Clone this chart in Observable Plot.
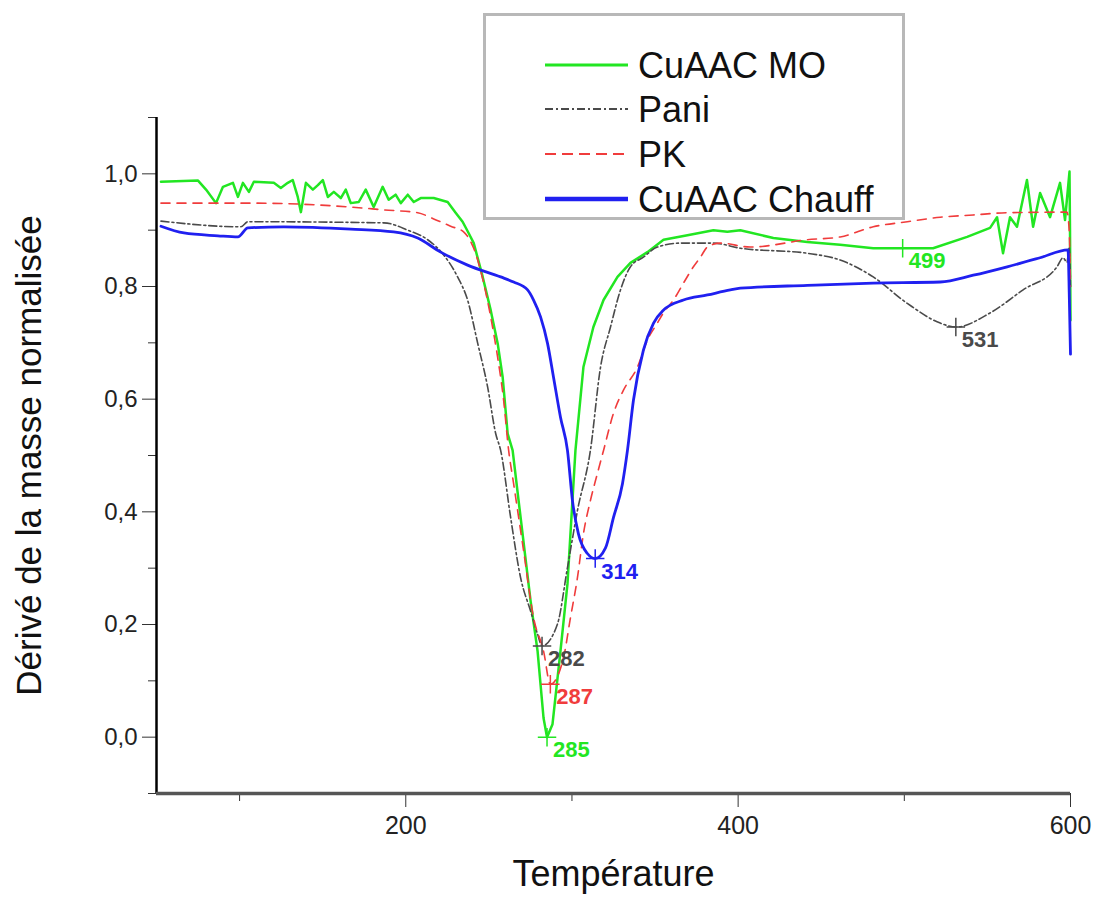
<!DOCTYPE html>
<html>
<head>
<meta charset="utf-8">
<script src="https://cdn.jsdelivr.net/npm/d3@7"></script>
<script src="https://cdn.jsdelivr.net/npm/@observablehq/plot@0.6"></script>
<style>
  body { margin: 0; background: #fff; }
  #wrap { position: relative; width: 1097px; height: 903px; font-family: "Liberation Sans", Arial, sans-serif; }
  #wrap svg.overlay { position: absolute; left: 0; top: 0; pointer-events: none; }
</style>
</head>
<body>
<div id="wrap"></div>
<script>
// ---- Data (Température, dérivé normalisé) ----
const cuaacMO = [
  [52.7,0.986],[75,0.988],[79.8,0.972],[85.8,0.948],[90,0.977],[96,0.984],[99,0.959],[102,0.984],
  [105.6,0.968],[108.6,0.986],[120.6,0.984],[124.8,0.975],[129,0.984],[132,0.989],[135,0.959],
  [136.9,0.932],[139.9,0.984],[144.1,0.972],[147.1,0.980],[150.1,0.989],[153.1,0.959],[156.7,0.968],
  [160.9,0.957],[163.9,0.972],[166.9,0.948],[171.7,0.950],[175.9,0.972],[180.7,0.941],[186.1,0.977],
  [189.7,0.954],[193.9,0.963],[197,0.948],[201.2,0.963],[204.8,0.950],[209,0.957],[216.8,0.957],
  [225.2,0.950],[230,0.931],[234.2,0.915],[237.8,0.895],[240.9,0.877],[246.3,0.817],[251.1,0.758],
  [255.3,0.699],[258.3,0.639],[261.3,0.539],[264.3,0.509],[269.1,0.390],[275.1,0.242],[279.3,0.153],
  [282.9,0.034],[285,0.0],[288.3,0.023],[293.1,0.153],[297.3,0.272],[300.3,0.420],[302.1,0.509],
  [306.9,0.657],[312.9,0.728],[319,0.776],[327.4,0.817],[335.2,0.842],[345.4,0.861],[355.1,0.883],
  [369.5,0.891],[385.1,0.900],[393.5,0.897],[401.3,0.900],[421.2,0.886],[441.6,0.879],[461.4,0.874],
  [481.3,0.868],[499.3,0.868],[517.3,0.868],[537.8,0.888],[551.6,0.904],[555.8,0.923],[559.4,0.859],
  [563.6,0.923],[567.8,0.906],[573.8,0.989],[577.5,0.906],[581.7,0.966],[587.7,0.923],[593.7,0.984],
  [596.7,0.918],[599.4,1.004],[599.7,0.90],[600,0.74]
];
const pani = [
  [52.7,0.916],[100.8,0.906],[105,0.915],[186.8,0.913],[201.2,0.900],[213.2,0.883],[222.8,0.856],
  [231.2,0.817],[237.2,0.776],[243.3,0.699],[249.3,0.621],[254.1,0.539],[257.1,0.509],[263.1,0.390],
  [269.1,0.283],[275.1,0.224],[279.3,0.183],[282,0.162],[291.3,0.201],[297.3,0.301],[303.3,0.402],
  [311.1,0.509],[317.2,0.657],[323.2,0.728],[329.2,0.794],[335.2,0.835],[343,0.852],[351.4,0.870],
  [365.2,0.877],[385.1,0.877],[401.3,0.868],[441.6,0.859],[461.4,0.847],[481.3,0.817],[501.8,0.770],
  [521.6,0.735],[531,0.728],[551.6,0.753],[571.5,0.794],[591.9,0.835],[595.5,0.851],[597.9,0.843],
  [599.2,0.87],[600,0.80]
];
const pk = [
  [52.7,0.948],[106.8,0.948],[166.9,0.941],[186.8,0.936],[207.2,0.931],[216.8,0.920],[227,0.907],
  [234.8,0.897],[242,0.859],[246.9,0.806],[251.1,0.746],[255.3,0.674],[258.9,0.598],[261.9,0.509],
  [264.9,0.450],[270.9,0.331],[276.9,0.212],[282.9,0.153],[287,0.094],[294.9,0.141],[299.1,0.212],
  [303.3,0.283],[306.9,0.361],[311.1,0.420],[315.3,0.468],[319,0.509],[325,0.575],[331,0.616],
  [339.4,0.657],[345.4,0.705],[351.4,0.735],[355,0.753],[361.1,0.776],[367.1,0.806],[373.1,0.835],
  [377.3,0.852],[381.5,0.870],[389.3,0.877],[407.3,0.870],[441.6,0.883],[461.4,0.888],[481.3,0.906],
  [501.8,0.915],[521.6,0.923],[541.5,0.927],[561.9,0.931],[597.9,0.932],[599.2,0.90],[600,0.80]
];
const cuaacChauff = [
  [52.7,0.907],[66.5,0.895],[87,0.890],[99,0.888],[105,0.904],[126.6,0.906],[166.9,0.902],
  [192.7,0.897],[207.2,0.886],[221,0.861],[237.2,0.838],[257.1,0.817],[264.9,0.808],[273.3,0.794],
  [276.9,0.776],[281.1,0.746],[285.3,0.699],[288.9,0.639],[293.1,0.568],[297.3,0.509],[300.3,0.420],
  [303.9,0.361],[309.3,0.326],[314,0.317],[320.2,0.336],[325,0.390],[330.4,0.450],[333.4,0.509],
  [337,0.598],[343,0.687],[349.1,0.735],[355,0.758],[367.1,0.776],[381.5,0.785],[395.3,0.794],
  [401.3,0.797],[441.6,0.802],[481.3,0.806],[521.6,0.808],[541.5,0.820],[561.9,0.835],[581.7,0.851],
  [598.5,0.865],[599.3,0.78],[600,0.68]
];

const seriesNames  = ["CuAAC MO", "Pani", "PK", "CuAAC Chauff"];
const seriesData   = [cuaacMO, pani, pk, cuaacChauff];
const seriesColors = ["#22e622", "#4a4a4a", "#f03c3c", "#2020f0"];
const seriesDash   = [null, "8,3,2,3", "9,7", null];
const seriesWidth  = [2.5, 1.6, 1.6, 2.8];
const seriesCurve  = ["linear", "monotone-x", "monotone-x", "monotone-x"];

const peakLabels = ["285", "287", "282", "314", "499", "531"];
const peakT      = [285, 287, 282, 314, 499, 531];
const peakV      = [0.0, 0.094, 0.162, 0.317, 0.868, 0.728];
const peakSeries = [0, 2, 1, 3, 0, 1];

const yMajor = [0, 0.2, 0.4, 0.6, 0.8, 1.0];
const yMinor = [-0.1, 0.1, 0.3, 0.5, 0.7, 0.9, 1.1];
const xMajor = [200, 400, 600];
const xMinor = [100, 300, 500];

const peaks = peakLabels.map((l, i) => ({label: l, T: peakT[i], v: peakV[i], color: seriesColors[peakSeries[i]]}));

const lineMarks = seriesData.map((d, i) => Plot.line(d, {
  x: p => p[0], y: p => p[1],
  stroke: seriesColors[i], strokeWidth: seriesWidth[i],
  strokeDasharray: seriesDash[i], curve: seriesCurve[i]
}));

const plot = Plot.plot({
  width: 1097, height: 903,
  marginLeft: 156, marginRight: 27, marginTop: 117, marginBottom: 110,
  x: {domain: [50, 600]},
  y: {domain: [-0.1, 1.1]},
  style: {fontFamily: "'Liberation Sans', Arial, sans-serif", background: "white", color: "#222"},
  marks: [
    Plot.axisY(yMajor, {tickSize: 14, tickPadding: 5, fontSize: 24, label: null,
      tickFormat: d => d.toFixed(1).replace(".", ","), stroke: "#333"}),
    Plot.axisY(yMinor, {tickSize: 8, tickFormat: () => "", label: null, stroke: "#333"}),
    Plot.axisX(xMajor, {tickSize: 14, tickPadding: 9, fontSize: 25, label: null, tickFormat: d => String(d), stroke: "#333"}),
    Plot.axisX(xMinor, {tickSize: 8, tickFormat: () => "", label: null, stroke: "#333"}),
    ...lineMarks,
    Plot.ruleX([50], {stroke: "black", strokeWidth: 2.5}),
    Plot.ruleY([-0.1], {stroke: "#555", strokeWidth: 3.5}),
    Plot.dot(peaks, {x: "T", y: "v", symbol: "plus", r: 6, stroke: "color", strokeWidth: 1.5}),
    Plot.text(peaks, {x: "T", y: "v", text: "label", fill: "color", textAnchor: "start",
      dx: 6, dy: 13, fontSize: 22, fontWeight: "bold"}),
    Plot.text(["Température"], {frameAnchor: "bottom", textAnchor: "middle", dy: 92, fontSize: 36, fill: "#111"}),
    Plot.text(["Dérivé de la masse normalisée"], {frameAnchor: "left", textAnchor: "middle", dx: -127, rotate: -90, fontSize: 35, fill: "#111"})
  ]
});

const wrap = document.getElementById("wrap");
wrap.appendChild(plot);

// ---- Legend overlay ----
const leg = d3.select(wrap).append("svg")
  .attr("class", "overlay").attr("width", 1097).attr("height", 903);
leg.append("rect").attr("x", 484.5).attr("y", 14.5).attr("width", 419).attr("height", 204)
  .attr("fill", "white").attr("stroke", "#b8b8b8").attr("stroke-width", 3);
const rowY = [65, 109, 154, 199];
seriesNames.forEach((name, i) => {
  leg.append("line").attr("x1", 545).attr("x2", 628).attr("y1", rowY[i]).attr("y2", rowY[i])
    .attr("stroke", seriesColors[i])
    .attr("stroke-width", i === 0 ? 3 : i === 3 ? 4.5 : 2)
    .attr("stroke-dasharray", i === 2 ? "11,6" : seriesDash[i]);
  leg.append("text").attr("x", 638).attr("y", rowY[i] + 13)
    .attr("font-family", "'Liberation Sans', Arial, sans-serif").attr("font-size", 36)
    .attr("fill", "#111").text(name);
});
</script>
</body>
</html>
